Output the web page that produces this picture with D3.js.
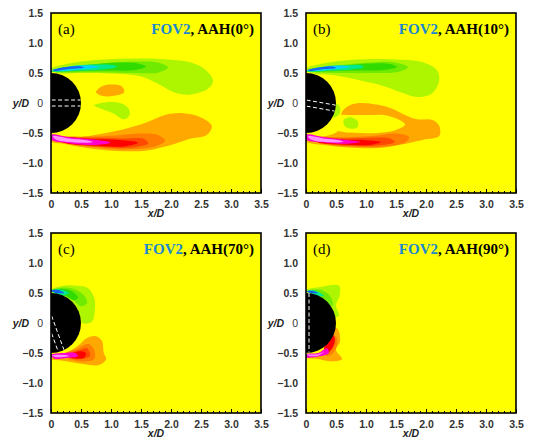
<!DOCTYPE html>
<html>
<head>
<meta charset="utf-8">
<script src="https://cdn.jsdelivr.net/npm/d3@7"></script>
<style>
  body { margin: 0; background: #fff; }
  .tick text { font-family: "Liberation Sans", Arial, sans-serif; font-weight: bold; font-size: 10.5px; fill: #333; }
  .axis .domain { display: none; }
  .lbl { font-family: "Liberation Sans", Arial, sans-serif; font-weight: bold; font-style: italic; font-size: 10.5px; fill: #222; }
  .ttl { font-family: "Liberation Serif", "Times New Roman", serif; font-size: 15px; }
</style>
</head>
<body>
<div id="chart"></div>
<script>
// ---- data (x/D, y/D) ----
const panelIds = ["a", "b", "c", "d"];
const holeAngles = [0, 10, 70, 90];          // AAH angle, degrees
const holeHalfWidth = 0.05;
const xTicks = [0, 0.5, 1, 1.5, 2, 2.5, 3, 3.5];
const yTicks = [-1.5, -1, -0.5, 0, 0.5, 1, 1.5];

// vorticity contour regions: [level, outline points]
const fieldA = [
  [-1, [[0,0.57],[0.3,0.66],[0.8,0.72],[1.5,0.74],[2.0,0.72],[2.35,0.67],[2.58,0.55],[2.7,0.37],[2.62,0.24],[2.42,0.16],[2.2,0.14],[2.0,0.2],[1.82,0.3],[1.5,0.44],[1.0,0.49],[0.5,0.5],[0.1,0.5]]],
  [-2, [[0,0.52],[0.5,0.6],[1.0,0.67],[1.5,0.69],[1.8,0.67],[1.95,0.59],[1.8,0.51],[1.4,0.5],[0.9,0.51],[0.4,0.51],[0.1,0.51]]],
  [-3, [[0,0.53],[0.5,0.62],[1.0,0.67],[1.4,0.665],[1.58,0.61],[1.4,0.55],[0.9,0.54],[0.4,0.53]]],
  [-4, [[0,0.535],[0.3,0.61],[0.7,0.64],[1.05,0.63],[1.1,0.6],[0.85,0.56],[0.45,0.54],[0.1,0.52]]],
  [-5, [[0,0.54],[0.3,0.605],[0.65,0.625],[0.8,0.6],[0.5,0.56],[0.15,0.535]]],
  [-6, [[0.03,0.55],[0.25,0.6],[0.5,0.61],[0.55,0.59],[0.3,0.565],[0.08,0.535]]],
  [1, [[0,-0.57],[0.4,-0.58],[0.8,-0.52],[1.2,-0.44],[1.6,-0.32],[1.9,-0.2],[2.2,-0.17],[2.5,-0.24],[2.68,-0.38],[2.6,-0.53],[2.3,-0.6],[2.0,-0.7],[1.6,-0.79],[1.1,-0.8],[0.6,-0.75],[0.2,-0.68],[0,-0.64]]],
  [2, [[0.1,-0.58],[0.6,-0.56],[1.1,-0.54],[1.5,-0.51],[1.8,-0.54],[1.9,-0.63],[1.75,-0.72],[1.3,-0.77],[0.8,-0.74],[0.3,-0.68]]],
  [3, [[0.1,-0.58],[0.7,-0.58],[1.2,-0.59],[1.55,-0.6],[1.62,-0.67],[1.35,-0.74],[0.8,-0.73],[0.3,-0.67]]],
  [4, [[0.1,-0.58],[0.7,-0.6],[1.2,-0.62],[1.45,-0.66],[1.25,-0.72],[0.7,-0.71],[0.2,-0.66]]],
  [5, [[0,-0.53],[0.3,-0.57],[0.7,-0.61],[1.0,-0.66],[0.75,-0.7],[0.3,-0.67],[0,-0.61]]],
  [6, [[0.03,-0.55],[0.3,-0.59],[0.6,-0.62],[0.7,-0.65],[0.4,-0.66],[0.08,-0.61]]],
  [1, [[0.75,0.18],[0.85,0.28],[1.0,0.31],[1.18,0.28],[1.22,0.18],[1.05,0.12],[0.85,0.12]]],
  [-1, [[0.72,-0.04],[0.9,0.01],[1.15,0.0],[1.3,-0.1],[1.3,-0.22],[1.2,-0.27],[1.05,-0.18],[0.85,-0.1]]]
];

const fieldB = [
  [-1, [[0,0.57],[0.4,0.68],[1.0,0.73],[1.6,0.72],[1.95,0.68],[2.18,0.55],[2.22,0.37],[2.1,0.16],[1.85,0.1],[1.6,0.17],[1.3,0.28],[0.9,0.38],[0.5,0.46],[0.1,0.5]]],
  [-2, [[0,0.52],[0.5,0.62],[1.0,0.67],[1.45,0.68],[1.7,0.6],[1.55,0.52],[1.1,0.5],[0.6,0.5],[0.2,0.51]]],
  [-3, [[0,0.53],[0.6,0.62],[1.1,0.66],[1.4,0.65],[1.52,0.6],[1.3,0.55],[0.8,0.54],[0.4,0.53]]],
  [-4, [[0,0.535],[0.3,0.61],[0.65,0.63],[0.95,0.62],[0.95,0.59],[0.75,0.56],[0.4,0.54],[0.1,0.52]]],
  [-5, [[0,0.54],[0.3,0.6],[0.6,0.62],[0.72,0.6],[0.45,0.56],[0.15,0.535]]],
  [-6, [[0.03,0.55],[0.25,0.595],[0.45,0.605],[0.5,0.585],[0.3,0.565],[0.08,0.535]]],
  [1, [[0,-0.58],[0.3,-0.56],[0.55,-0.45],[0.6,-0.15],[0.72,-0.04],[0.9,0.0],[1.2,-0.03],[1.45,-0.1],[1.65,-0.2],[1.85,-0.27],[2.1,-0.28],[2.22,-0.38],[2.22,-0.55],[1.97,-0.61],[1.7,-0.67],[1.2,-0.75],[0.7,-0.74],[0.3,-0.7],[0,-0.64]]],
  [0, [[0.5,-0.22],[0.8,-0.2],[1.05,-0.2],[1.3,-0.2],[1.55,-0.28],[1.65,-0.36],[1.5,-0.45],[1.2,-0.5],[0.9,-0.5],[0.6,-0.48],[0.4,-0.4]]],
  [-1, [[0.63,-0.28],[0.75,-0.24],[0.86,-0.3],[0.86,-0.4],[0.75,-0.43],[0.64,-0.38]]],
  [-1, [[0.42,0.0],[0.55,-0.04],[0.56,-0.18],[0.45,-0.24]]],
  [2, [[0.1,-0.58],[0.6,-0.57],[1.1,-0.55],[1.5,-0.51],[1.72,-0.57],[1.65,-0.66],[1.3,-0.73],[0.8,-0.73],[0.3,-0.68]]],
  [3, [[0.1,-0.58],[0.7,-0.59],[1.1,-0.58],[1.4,-0.59],[1.48,-0.65],[1.2,-0.71],[0.7,-0.71],[0.3,-0.67]]],
  [4, [[0.1,-0.58],[0.6,-0.61],[1.0,-0.62],[1.25,-0.65],[1.05,-0.7],[0.6,-0.69],[0.2,-0.66]]],
  [5, [[0,-0.53],[0.3,-0.57],[0.6,-0.61],[0.9,-0.65],[0.65,-0.68],[0.3,-0.66],[0,-0.61]]],
  [6, [[0.03,-0.55],[0.3,-0.59],[0.55,-0.62],[0.62,-0.645],[0.35,-0.655],[0.08,-0.61]]]
];

const fieldC = [
  [-1, [[0,0.55],[0.2,0.62],[0.45,0.62],[0.62,0.58],[0.72,0.42],[0.73,0.2],[0.68,0.02],[0.52,0.0],[0.48,0.15],[0.4,0.3],[0.25,0.43],[0.05,0.5]]],
  [-2, [[0,0.54],[0.2,0.59],[0.4,0.56],[0.56,0.45],[0.6,0.33],[0.5,0.28],[0.35,0.4],[0.15,0.48]]],
  [-3, [[0,0.535],[0.2,0.57],[0.36,0.52],[0.45,0.42],[0.38,0.38],[0.25,0.45],[0.08,0.5]]],
  [-4, [[0,0.53],[0.15,0.56],[0.3,0.5],[0.2,0.46],[0.05,0.5]]],
  [-6, [[0,0.54],[0.12,0.55],[0.22,0.5],[0.1,0.5]]],
  [1, [[0,-0.56],[0.25,-0.5],[0.45,-0.38],[0.6,-0.25],[0.75,-0.22],[0.85,-0.3],[0.88,-0.5],[0.92,-0.6],[0.8,-0.7],[0.5,-0.68],[0.2,-0.63],[0,-0.6]]],
  [2, [[0.2,-0.53],[0.45,-0.42],[0.62,-0.35],[0.72,-0.45],[0.72,-0.6],[0.55,-0.64],[0.3,-0.6]]],
  [3, [[0.3,-0.52],[0.5,-0.44],[0.6,-0.42],[0.65,-0.55],[0.5,-0.6],[0.3,-0.58]]],
  [4, [[0.3,-0.53],[0.5,-0.47],[0.58,-0.5],[0.55,-0.58],[0.35,-0.58]]],
  [5, [[0,-0.53],[0.2,-0.5],[0.4,-0.5],[0.45,-0.55],[0.3,-0.58],[0.05,-0.59]]],
  [6, [[0.02,-0.54],[0.2,-0.53],[0.3,-0.55],[0.1,-0.57]]]
];

const fieldD = [
  [-1, [[0,0.55],[0.25,0.6],[0.55,0.62],[0.56,0.45],[0.5,0.3],[0.55,0.12],[0.47,0.1],[0.4,0.3],[0.25,0.43],[0.05,0.5]]],
  [-2, [[0.05,0.54],[0.25,0.55],[0.4,0.45],[0.45,0.3],[0.38,0.3],[0.25,0.42],[0.1,0.49]]],
  [-4, [[0,0.53],[0.15,0.54],[0.3,0.45],[0.2,0.45],[0.05,0.5]]],
  [-6, [[0,0.53],[0.12,0.535],[0.2,0.5],[0.1,0.5]]],
  [1, [[0,-0.55],[0.25,-0.5],[0.42,-0.3],[0.48,-0.08],[0.53,-0.1],[0.57,-0.3],[0.5,-0.45],[0.6,-0.6],[0.42,-0.64],[0.2,-0.6],[0,-0.58]]],
  [2, [[0.3,-0.45],[0.45,-0.2],[0.5,-0.22],[0.52,-0.35],[0.45,-0.5],[0.35,-0.55]]],
  [4, [[0.3,-0.43],[0.44,-0.2],[0.48,-0.25],[0.45,-0.4],[0.35,-0.5]]],
  [5, [[0,-0.52],[0.2,-0.5],[0.35,-0.42],[0.38,-0.5],[0.2,-0.56],[0,-0.57]]],
  [6, [[0.02,-0.53],[0.2,-0.52],[0.3,-0.48],[0.2,-0.545],[0.05,-0.55]]]
];

const fields = [fieldA, fieldB, fieldC, fieldD];

// ---- layout ----
const width = 537, height = 447;
const pw = 210, ph = 180;
const origins = [[51, 13], [306, 13], [51, 233], [306, 233]];

const colour = d3.scaleOrdinal()
  .domain([-6, -5, -4, -3, -2, -1, 0, 1, 2, 3, 4, 5, 6])
  .range(["#1860f0", "#00d4ff", "#00e890", "#30dc00", "#70ea00", "#aef500", "#ffff00",
          "#ffa800", "#ff7e00", "#ff4800", "#ff0000", "#ff00d0", "#ff90ff"]);

const x = d3.scaleLinear().domain([0, 3.5]).range([0, pw]);
const y = d3.scaleLinear().domain([-1.5, 1.5]).range([ph, 0]);

const line = d3.line()
  .x(d => x(d[0]))
  .y(d => y(d[1]))
  .curve(d3.curveCatmullRomClosed.alpha(0.5));

const svg = d3.select("#chart")
  .append("svg")
    .attr("width", width)
    .attr("height", height);

panelIds.forEach((id, i) => {
  const g = svg.append("g")
    .attr("transform", `translate(${origins[i][0]},${origins[i][1]})`);

  svg.append("defs").append("clipPath").attr("id", "clip" + id)
    .append("rect").attr("width", pw).attr("height", ph);

  const plot = g.append("g").attr("clip-path", `url(#clip${id})`);

  plot.append("rect")
    .attr("width", pw).attr("height", ph)
    .attr("fill", colour(0));

  plot.selectAll("path.lev")
    .data(fields[i])
    .join("path")
      .attr("class", "lev")
      .attr("d", d => line(d[1]))
      .attr("fill", d => colour(d[0]));

  // cylinder (half, x >= 0)
  plot.append("path")
    .attr("transform", `translate(${x(0)},${y(0)})`)
    .attr("d", d3.arc()({innerRadius: 0, outerRadius: x(0.5) - x(0), startAngle: 0, endAngle: Math.PI}))
    .attr("fill", "#000");

  // hole walls
  const a = holeAngles[i] * Math.PI / 180;
  const dir = [Math.cos(a), -Math.sin(a)], nrm = [Math.sin(a), Math.cos(a)];
  [-1, 1].forEach(s => {
    const p0 = [-0.5 * dir[0] + s * holeHalfWidth * nrm[0], -0.5 * dir[1] + s * holeHalfWidth * nrm[1]];
    const p1 = [0.49 * dir[0] + s * holeHalfWidth * nrm[0], 0.49 * dir[1] + s * holeHalfWidth * nrm[1]];
    plot.append("line")
      .attr("x1", x(Math.max(p0[0], 0.01))).attr("y1", y(p0[1] + (Math.max(p0[0], 0.01) - p0[0]) * (p1[1] - p0[1]) / ((p1[0] - p0[0]) || 1)))
      .attr("x2", x(Math.max(p1[0], 0.01))).attr("y2", y(p1[1]))
      .attr("stroke", "#fff")
      .attr("stroke-width", 1)
      .attr("stroke-dasharray", "4,2.5");
  });

  // frame
  g.append("rect")
    .attr("width", pw).attr("height", ph)
    .attr("fill", "none")
    .attr("stroke", "#000")
    .attr("stroke-width", 1.6);

  // minor ticks inside bottom edge
  g.append("g")
    .attr("class", "axis")
    .attr("transform", `translate(0,${ph})`)
    .call(d3.axisBottom(x).ticks(35).tickSize(-2).tickFormat(""))
    .selectAll("line").attr("stroke", "#000");

  g.append("g")
    .attr("class", "axis")
    .attr("transform", `translate(0,${ph})`)
    .call(d3.axisBottom(x).tickValues(xTicks).tickSize(-4).tickPadding(8)
      .tickFormat(d => d === 0 ? "0" : d3.format(".1f")(d)))
    .selectAll("line").attr("stroke", "#000");

  const ya = g.append("g")
    .attr("class", "axis")
    .call(d3.axisLeft(y).tickValues(yTicks).tickSize(0).tickPadding(8)
      .tickFormat(d => d === 0 ? "0" : d3.format(".1f")(d)));
  ya.selectAll(".tick text").filter(d => d === 0).style("font-weight", "normal");

  g.append("text").attr("class", "lbl")
    .attr("x", -22).attr("y", y(0) + 4)
    .attr("text-anchor", "end")
    .text("y/D");

  g.append("text").attr("class", "lbl")
    .attr("x", pw / 2).attr("y", ph + 24)
    .attr("text-anchor", "middle")
    .text("x/D");

  g.append("text").attr("class", "ttl")
    .attr("x", 7).attr("y", 21)
    .text(`(${id})`);

  const t = g.append("text").attr("class", "ttl")
    .attr("x", pw - 7).attr("y", 21)
    .attr("text-anchor", "end")
    .style("font-weight", "bold");
  t.append("tspan").attr("fill", "#1a88d0").text("FOV2");
  t.append("tspan").attr("fill", "#000").text(`, AAH(${holeAngles[i]}\u00B0)`);
});
</script>
</body>
</html>
